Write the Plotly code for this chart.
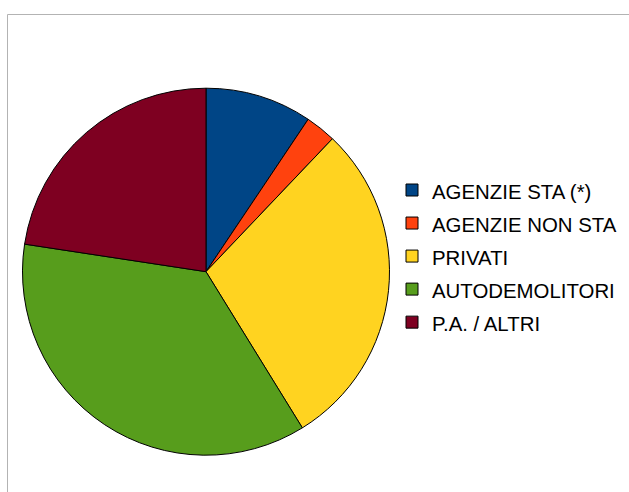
import plotly.graph_objects as go

W, H = 629, 492

labels = ["AGENZIE STA (*)", "AGENZIE NON STA", "PRIVATI", "AUTODEMOLITORI", "P.A. / ALTRI"]
values = [9.4, 2.7, 29.1, 36.2, 22.6]
colors = ["#004586", "#ff420e", "#ffd320", "#579d1c", "#7e0021"]

cx, cy, r = 206, 271.7, 183.5

# legend rows are spaced by the legend font size; the visible text is kept near 20px
shown_labels = ["<span style='font-size:20.4px'>%s</span>" % t for t in labels]

fig = go.Figure(go.Pie(
    labels=shown_labels,
    values=values,
    sort=False,
    direction="clockwise",
    rotation=0,
    textinfo="none",
    hovertemplate="%{customdata}: %{value}<extra></extra>",
    customdata=labels,
    marker=dict(colors=colors, line=dict(color="#000000", width=1)),
    domain=dict(x=[(cx - r) / W, (cx + r) / W], y=[1 - (cy + r) / H, 1 - (cy - r) / H]),
))

fig.update_layout(
    width=W, height=H,
    margin=dict(l=0, r=0, t=0, b=0),
    paper_bgcolor="white",
    plot_bgcolor="white",
    font=dict(family="Liberation Sans, Arial, sans-serif", size=20, color="#000000"),
    legend=dict(
        x=392 / W, y=1 - 256.5 / H, xanchor="left", yanchor="middle",
        font=dict(size=23.1, color="#000000"),
        bgcolor="rgba(0,0,0,0)",
    ),
    shapes=[
        dict(type="line", xref="paper", yref="paper",
             x0=7.5 / W, x1=1.0, y0=1 - 14.5 / H, y1=1 - 14.5 / H,
             line=dict(color="#b3b3b3", width=1)),
        dict(type="line", xref="paper", yref="paper",
             x0=7.5 / W, x1=7.5 / W, y0=0, y1=1 - 14.5 / H,
             line=dict(color="#b3b3b3", width=1)),
    ],
)

fig.write_html("out.html", config={"displayModeBar": False},
               post_script="document.body.style.margin='0';")
